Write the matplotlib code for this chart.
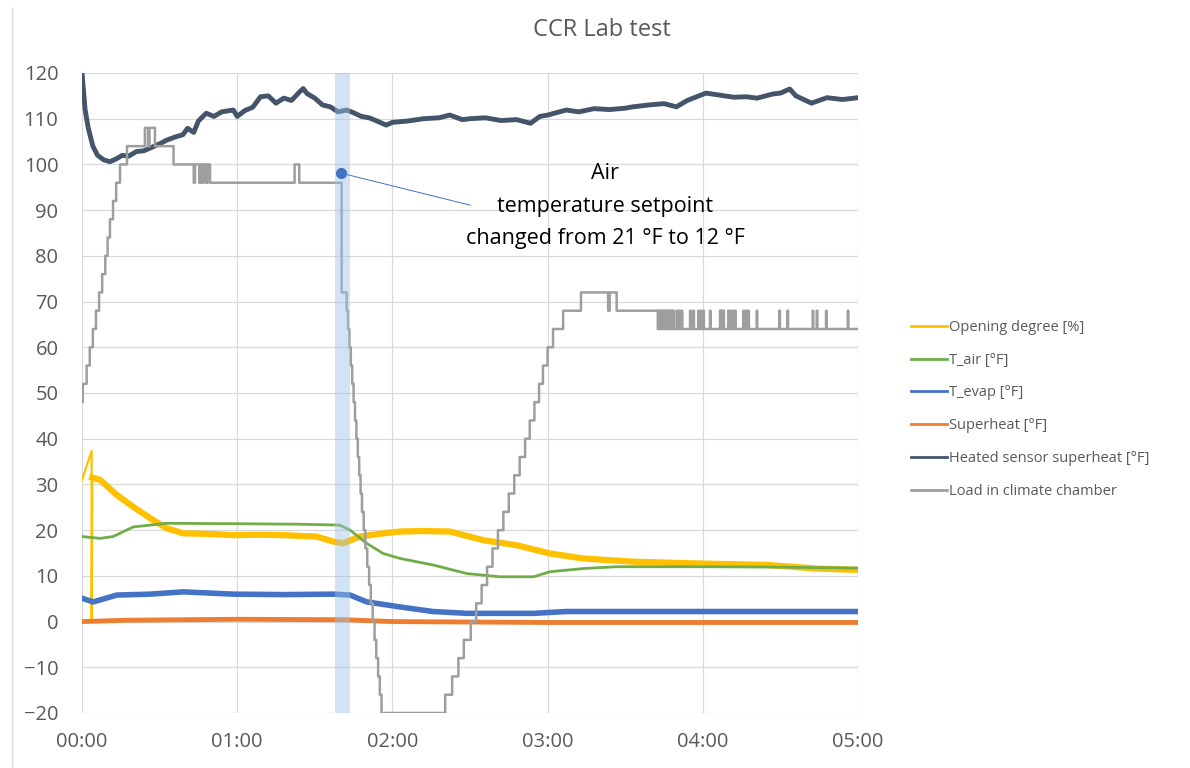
import matplotlib
matplotlib.use("Agg")
from matplotlib import pyplot as plt
from matplotlib.lines import Line2D

plt.rcParams['font.family'] = ['Open Sans', 'DejaVu Sans']

# time in hours since start
open_t = [0, 0.062, 0.062, 0.066, 0.116, 0.224, 0.33, 0.44, 0.545, 0.653, 0.8, 0.975,
          1.15, 1.30, 1.51, 1.62, 1.68, 1.79, 1.94, 2.05, 2.2, 2.37, 2.586, 2.80,
          3.015, 3.23, 3.55, 3.98, 4.41, 4.73, 5.0]
open_v = [31, 37.3, 0, 31.5, 31, 27.7, 25.1, 22.6, 20.4, 19.3, 19.2, 18.9,
          19.0, 18.9, 18.6, 17.5, 17.1, 18.6, 19.3, 19.7, 19.8, 19.7, 17.8, 16.7,
          14.9, 13.8, 13.1, 12.7, 12.4, 11.6, 11.3]

air_t = [0, 0.116, 0.2, 0.33, 0.44, 0.545, 1.0, 1.4, 1.66, 1.727, 1.835, 1.94, 2.05,
         2.26, 2.48, 2.69, 2.91, 3.015, 3.23, 3.445, 4.0, 4.5, 5.0]
air_v = [18.6, 18.2, 18.6, 20.7, 21.1, 21.5, 21.4, 21.3, 21.1, 20.0, 17.1, 14.9, 13.8,
         12.4, 10.5, 9.8, 9.8, 10.9, 11.6, 12.0, 12.0, 11.9, 11.7]

evap_t = [0, 0.073, 0.224, 0.44, 0.653, 0.975, 1.30, 1.62, 1.727, 1.835, 2.05,
          2.26, 2.48, 2.91, 3.12, 4.0, 5.0]
evap_v = [5.1, 4.3, 5.8, 6.0, 6.5, 6.0, 5.9, 6.0, 5.8, 4.3, 3.2,
          2.2, 1.8, 1.8, 2.2, 2.2, 2.2]

sh_t = [0, 0.3, 1.0, 1.7, 2.0, 3.0, 4.0, 5.0]
sh_v = [0.0, 0.3, 0.5, 0.4, 0.0, -0.2, -0.2, -0.2]

heat_t = [0, 0.02, 0.04, 0.07, 0.1, 0.14, 0.18, 0.22, 0.26, 0.3, 0.35, 0.4, 0.44,
          0.5, 0.545, 0.6, 0.65, 0.68, 0.72, 0.75, 0.8, 0.85, 0.9, 0.975, 1.0,
          1.05, 1.1, 1.15, 1.2, 1.25, 1.3, 1.35, 1.4, 1.425, 1.45, 1.5, 1.55,
          1.6, 1.65, 1.705, 1.75, 1.8, 1.85, 1.9, 1.96, 2.0, 2.1, 2.2, 2.3,
          2.37, 2.45, 2.5, 2.6, 2.7, 2.8, 2.89, 2.95, 3.0, 3.12, 3.2, 3.3,
          3.4, 3.5, 3.55, 3.65, 3.75, 3.83, 3.9, 4.02, 4.1, 4.2, 4.28, 4.35,
          4.45, 4.5, 4.56, 4.6, 4.7, 4.8, 4.9, 5.0]
heat_v = [120, 112, 108, 104, 102, 101, 100.6, 101.2, 102, 101.8, 102.8, 103, 103.6,
          104.5, 105.3, 106, 106.5, 107.9, 107, 109.5, 111.2, 110.5, 111.5, 111.9, 110.5,
          111.8, 112.5, 114.8, 115, 113.4, 114.5, 114, 115.8, 116.6, 115.5, 114.5, 113,
          112.6, 111.5, 111.9, 111.3, 110.5, 110.2, 109.5, 108.6, 109.2, 109.5, 110, 110.2,
          110.8, 109.8, 110, 110.2, 109.6, 109.8, 109, 110.5, 110.8, 111.9, 111.5, 112.2,
          112, 112.3, 112.6, 113, 113.3, 112.6, 114, 115.6, 115.2, 114.7, 114.8, 114.5,
          115.4, 115.6, 116.5, 115.0, 113.4, 114.6, 114.2, 114.6]

# load in climate chamber, value holds until next time (step)
load_t = [0, 0.005, 0.03, 0.05, 0.07, 0.09, 0.11, 0.13, 0.15, 0.165, 0.18, 0.20, 0.22,
          0.245, 0.29, 0.405, 0.425, 0.435, 0.47, 0.59, 0.72, 0.728, 0.755, 0.765,
          0.775, 0.785, 0.80, 0.81, 0.825, 1.37, 1.40, 1.673,
          1.705, 1.714, 1.723, 1.732, 1.741, 1.750, 1.759, 1.768, 1.777, 1.786, 1.795,
          1.804, 1.815, 1.826, 1.838, 1.850, 1.861, 1.873, 1.885, 1.896, 1.908, 1.919, 1.93,
          2.34, 2.385, 2.425, 2.46, 2.505, 2.54, 2.575, 2.61, 2.645, 2.68, 2.715, 2.75,
          2.785, 2.82, 2.855, 2.885, 2.915, 2.945, 2.97, 3.00, 3.035, 3.10,
          3.215, 3.39, 3.40, 3.445, 3.71]
load_v = [48, 52, 56, 60, 64, 68, 72, 76, 80, 84, 88, 92, 96,
          100, 104, 108, 104, 108, 104, 100, 96, 100, 96, 100,
          96, 100, 96, 100, 96, 100, 96, 72,
          68, 64, 60, 56, 52, 48, 44, 40, 36, 32, 28,
          24, 20, 16, 12, 8, 4, 0, -4, -8, -12, -16, -20,
          -16, -12, -8, -4, 0, 4, 8, 12, 16, 20, 24, 28,
          32, 36, 40, 44, 48, 52, 56, 60, 64, 68,
          72, 68, 72, 68, 64]
# short jumps from 64 up to 68 near the end
load_spikes = [3.713, 3.722, 3.731, 3.740, 3.749, 3.758, 3.768, 3.778, 3.79, 3.80, 3.81,
               3.832, 3.848, 3.864, 3.918, 3.939, 3.971, 3.987, 4.003, 4.046, 4.111,
               4.122, 4.132, 4.164, 4.18, 4.197, 4.207, 4.261, 4.277, 4.293, 4.347,
               4.493, 4.545, 4.708, 4.734, 4.794, 4.934]

lt = list(load_t)
lv = list(load_v)
for s in load_spikes:
    lt += [s, s + 0.004]
    lv += [68, 64]
lt.append(5.0)
lv.append(64)
pairs = sorted(zip(lt, lv))

c_open = '#FFC000'
c_air = '#70AD47'
c_evap = '#4472C4'
c_sh = '#ED7D31'
c_heat = '#44546A'
c_load = '#9E9E9E'

fig = plt.figure(figsize=(11.9, 7.68), dpi=100)
ax = fig.add_axes([82/1190, 55/768, 776/1190, 640/768])

ax.plot(open_t[:4], open_v[:4], color=c_open, lw=1.6)
ax.plot(open_t[3:], open_v[3:], color=c_open, lw=4.5, solid_joinstyle='round')
ax.plot(air_t, air_v, color=c_air, lw=2)
ax.plot(evap_t, evap_v, color=c_evap, lw=4)
ax.plot(sh_t, sh_v, color=c_sh, lw=3.5)
ax.plot(heat_t, heat_v, color=c_heat, lw=3.5)
ax.plot([p[0] for p in pairs], [p[1] for p in pairs], color=c_load,
        lw=1.8, drawstyle='steps-post', snap=False)

ax.axvspan(1.63, 1.727, color='#9DC3E6', alpha=0.45, lw=0, zorder=5)

# annotation
ax.plot([1.669, 2.5], [98.1, 91.1], color=c_evap, lw=0.7, zorder=6)
ax.plot([1.669], [98.1], 'o', color=c_evap, ms=7, zorder=7)
ax.text(3.37, 90.9, "Air\ntemperature setpoint\nchanged from 21 °F to 12 °F",
        ha='center', va='center', fontsize=15.5, color='#000000', linespacing=1.72)

ax.set_xlim(0, 5)
ax.set_ylim(-20, 120)
ax.set_xticks(range(6))
ax.set_xticklabels(["00:00", "01:00", "02:00", "03:00", "04:00", "05:00"])
ax.set_yticks(range(-20, 121, 10))
ax.tick_params(length=0, labelsize=14.5, labelcolor='#595959')
ax.tick_params(axis='y', pad=17)
ax.tick_params(axis='x', pad=14)
ax.grid(True, color='#D9D9D9', lw=0.9)
ax.set_axisbelow(True)
for s in ax.spines.values():
    s.set_visible(False)

fig.text(602/1190, 1 - 30/768, "CCR Lab test", ha='center', va='center',
         fontsize=17, color='#595959')

handles = [Line2D([], [], color=c, lw=2) for c in
           [c_open, c_air, c_evap, c_sh, c_heat, c_load]]
labels = ["Opening degree [%]", "T_air [°F]", "T_evap [°F]", "Superheat [°F]",
          "Heated sensor superheat [°F]", "Load in climate chamber"]
leg = fig.legend(handles, labels, loc='upper left', bbox_to_anchor=(905/1190, 1 - 314/768),
                 frameon=False, fontsize=10.5, handlelength=2.5, handletextpad=0.15,
                 labelspacing=1.22, borderaxespad=0)
for t in leg.get_texts():
    t.set_color('#595959')

fig.add_artist(Line2D([12/1190, 12/1190], [0, 1 - 8/768], color='#D9D9D9', lw=1))

fig.savefig("out.png", dpi=100)
